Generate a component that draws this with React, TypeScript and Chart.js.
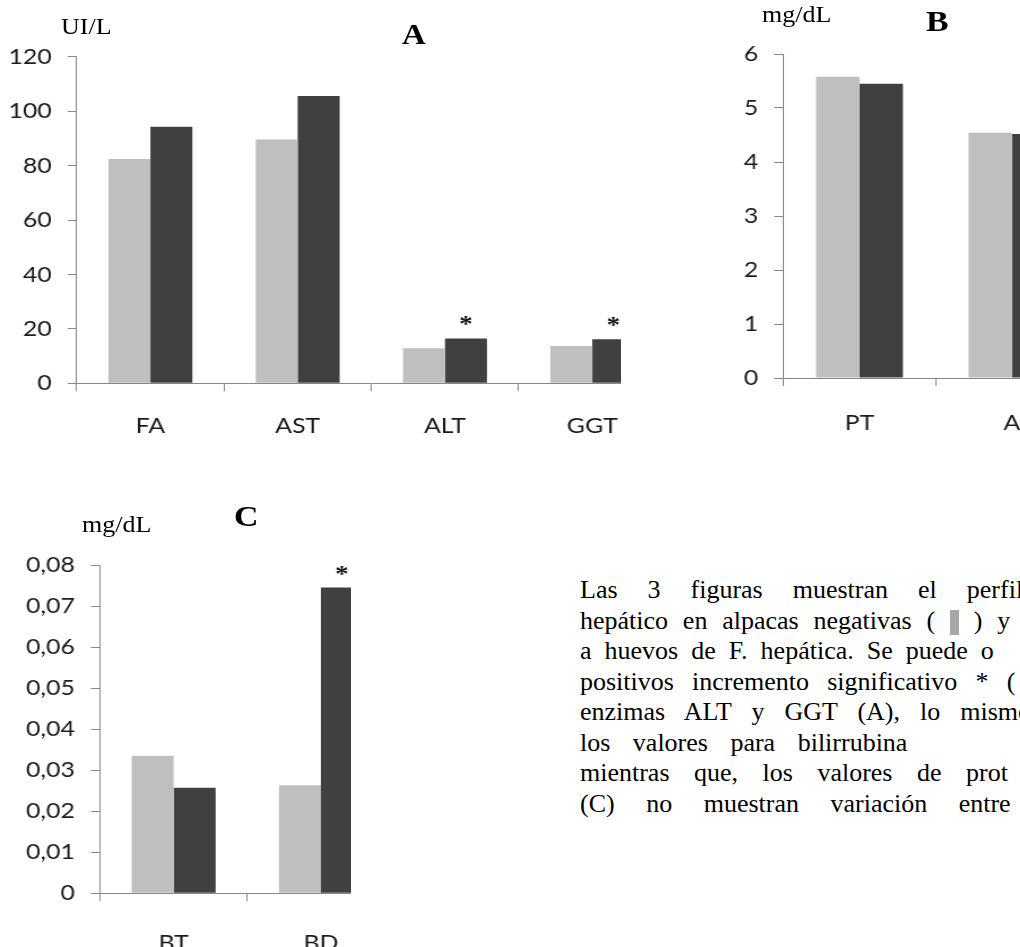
import React, { useEffect, useRef } from "react";
import { Chart, registerables } from "chart.js";
Chart.register(...registerables);

// ---------------- data ----------------
const catsA = ["FA", "AST", "ALT", "GGT"];
const negA = [82.4, 89.6, 12.9, 13.7];
const posA = [94.3, 105.6, 16.5, 16.2];
const sigA = [false, false, true, true];
const ticksA = ["0", "20", "40", "60", "80", "100", "120"];

const catsB = ["PT", "A"];
const negB = [5.58, 4.54];
const posB = [5.45, 4.52];
const sigB = [false, false];
const ticksB = ["0", "1", "2", "3", "4", "5", "6"];

const catsC = ["BT", "BD"];
const negC = [0.0335, 0.0263];
const posC = [0.0257, 0.0745];
const sigC = [false, true];
const ticksC = ["0", "0,01", "0,02", "0,03", "0,04", "0,05", "0,06", "0,07", "0,08"];

const paragraphLines = [
  "Las 3 figuras muestran el perfil",
  "hepático en alpacas negativas ( ▮ ) y",
  "a huevos de F. hepática. Se puede o",
  "positivos incremento significativo * (",
  "enzimas ALT y GGT (A), lo mismo",
  "los valores para bilirrubina",
  "mientras que, los valores de prot",
  "(C) no muestran variación entre",
];

// ---------------- styles ----------------
const S = 1.13; // horizontal stretch of the figure
const LIGHT = "#bfbfbf";
const DARK = "#404040";
const AXIS = "#878787";
const TEXT = "#1a1a1a";
const TICK_FONT = { family: "Lato", size: 22 };
const lineSpacing = [23.5, 8.3, 6.5, 11.7, 13.5, 16, 18, 25];

const starPlugin = {
  id: "stars",
  afterDatasetsDraw(chart: any, _args: any, opts: any) {
    const flags: boolean[] = opts.flags || [];
    const meta = chart.getDatasetMeta(1);
    const ctx = chart.ctx;
    ctx.save();
    ctx.font = 'bold 24px "Liberation Serif"';
    ctx.fillStyle = "#111";
    ctx.textAlign = "center";
    ctx.textBaseline = "alphabetic";
    meta.data.forEach((bar: any, i: number) => {
      if (flags[i]) ctx.fillText("*", bar.x, bar.y - 7);
    });
    ctx.restore();
  },
};

type PanelProps = {
  labels: string[];
  neg: number[];
  pos: number[];
  sig: boolean[];
  tickLabels: string[];
  step: number;
  max: number;
  box: { x: number; y: number; w: number; h: number };
  plot: { l: number; r: number; t: number; b: number };
  cw: number;
  ch: number;
  xPad: number;
};

function BarPanel(p: PanelProps) {
  const ref = useRef<HTMLCanvasElement>(null);
  useEffect(() => {
    const canvas = ref.current!;
    const chart = new Chart(canvas, {
      type: "bar",
      data: {
        labels: p.labels,
        datasets: [
          { data: p.neg, backgroundColor: LIGHT, borderWidth: 0, categoryPercentage: 0.57, barPercentage: 1 },
          { data: p.pos, backgroundColor: DARK, borderWidth: 0, categoryPercentage: 0.57, barPercentage: 1 },
        ],
      },
      options: {
        responsive: false,
        animation: false,
        devicePixelRatio: 1,
        layout: { padding: { left: 0, top: p.plot.t, right: p.cw - p.plot.r / S, bottom: 0 } },
        plugins: {
          legend: { display: false },
          tooltip: { enabled: false },
          stars: { flags: p.sig },
        } as any,
        scales: {
          x: {
            type: "category",
            offset: true,
            grid: { offset: true, drawOnChartArea: false, drawTicks: true, tickLength: 8, color: AXIS, lineWidth: 1 },
            border: { display: true, color: AXIS, width: 1 },
            ticks: { padding: p.xPad, font: TICK_FONT, color: TEXT, maxRotation: 0, autoSkip: false },
            afterFit: (s: any) => {
              s.height = p.ch - p.plot.b;
            },
          },
          y: {
            min: 0,
            max: p.max,
            grid: { drawOnChartArea: false, drawTicks: true, tickLength: 9 / S, color: AXIS, lineWidth: 1 },
            border: { display: true, color: AXIS, width: 1 },
            ticks: {
              stepSize: p.step,
              padding: 16 / S,
              font: TICK_FONT,
              color: TEXT,
              callback: (v: any) => p.tickLabels[Math.round(Number(v) / p.step)] ?? "",
            },
            afterFit: (s: any) => {
              s.width = p.plot.l / S;
            },
          },
        },
      },
      plugins: [starPlugin as any],
    });
    return () => chart.destroy();
  }, []);
  return (
    <div style={{ position: "absolute", left: p.box.x, top: p.box.y, width: p.box.w, height: p.box.h, overflow: "hidden" }}>
      <div style={{ position: "absolute", left: 0, top: 0, transform: `scaleX(${S})`, transformOrigin: "0 0" }}>
        <canvas ref={ref} width={p.cw} height={p.ch} style={{ display: "block", width: p.cw, height: p.ch }} />
      </div>
    </div>
  );
}

function Label(props: { x: number; y: number; size: number; bold?: boolean; text: string }) {
  return (
    <div
      style={{
        position: "absolute",
        left: props.x,
        top: props.y,
        fontFamily: '"Liberation Serif", "Times New Roman", serif',
        fontSize: props.size,
        fontWeight: props.bold ? 700 : 400,
        lineHeight: 1,
        whiteSpace: "nowrap",
        color: "#000",
        transform: `scaleX(${S})`,
        transformOrigin: "0 0",
      }}
    >
      {props.text}
    </div>
  );
}

function ParagraphLine({ text, ws }: { text: string; ws: number }) {
  const parts = text.split("▮");
  return (
    <div style={{ height: 30.5, lineHeight: "30.5px", whiteSpace: "pre", wordSpacing: ws }}>
      {parts.map((part, i) => (
        <React.Fragment key={i}>
          {part}
          {i < parts.length - 1 && (
            <span
              style={{
                display: "inline-block",
                width: 9,
                height: 25,
                background: "#a6a6a6",
                verticalAlign: -6,
              }}
            />
          )}
        </React.Fragment>
      ))}
    </div>
  );
}

export default function App() {
  return (
    <div
      style={{
        position: "fixed",
        left: 0,
        top: 0,
        width: 1020,
        height: 947,
        overflow: "hidden",
        background: "#fff",
      }}
    >
      <BarPanel
        labels={catsA}
        neg={negA}
        pos={posA}
        sig={sigA}
        tickLabels={ticksA}
        step={20}
        max={120}
        box={{ x: 0, y: 0, w: 621, h: 490 }}
        plot={{ l: 76.7, r: 665.9, t: 56.7, b: 383.3 }}
        cw={600}
        ch={470}
        xPad={21}
      />
      <BarPanel
        labels={catsB}
        neg={negB}
        pos={posB}
        sig={sigB}
        tickLabels={ticksB}
        step={1}
        max={6}
        box={{ x: 680, y: 0, w: 340, h: 490 }}
        plot={{ l: 103.3, r: 408.1, t: 54, b: 378 }}
        cw={370}
        ch={470}
        xPad={24}
      />
      <BarPanel
        labels={catsC}
        neg={negC}
        pos={posC}
        sig={sigC}
        tickLabels={ticksC}
        step={0.01}
        max={0.08}
        box={{ x: 0, y: 490, w: 351, h: 457 }}
        plot={{ l: 100, r: 394.6, t: 75, b: 403.3 }}
        cw={360}
        ch={480}
        xPad={28}
      />

      <Label x={61} y={15} size={23} text="UI/L" />
      <Label x={402} y={20} size={29} bold text="A" />
      <Label x={762} y={3} size={23} text="mg/dL" />
      <Label x={926} y={6} size={30} bold text="B" />
      <Label x={82} y={513} size={23} text="mg/dL" />
      <Label x={234} y={501} size={30} bold text="C" />

      <div
        style={{
          position: "absolute",
          left: 580,
          top: 575,
          fontFamily: '"Liberation Serif", "Times New Roman", serif',
          fontSize: 26,
          color: "#000",
        }}
      >
        {paragraphLines.map((t, i) => (
          <ParagraphLine key={i} text={t} ws={lineSpacing[i]} />
        ))}
      </div>
    </div>
  );
}
